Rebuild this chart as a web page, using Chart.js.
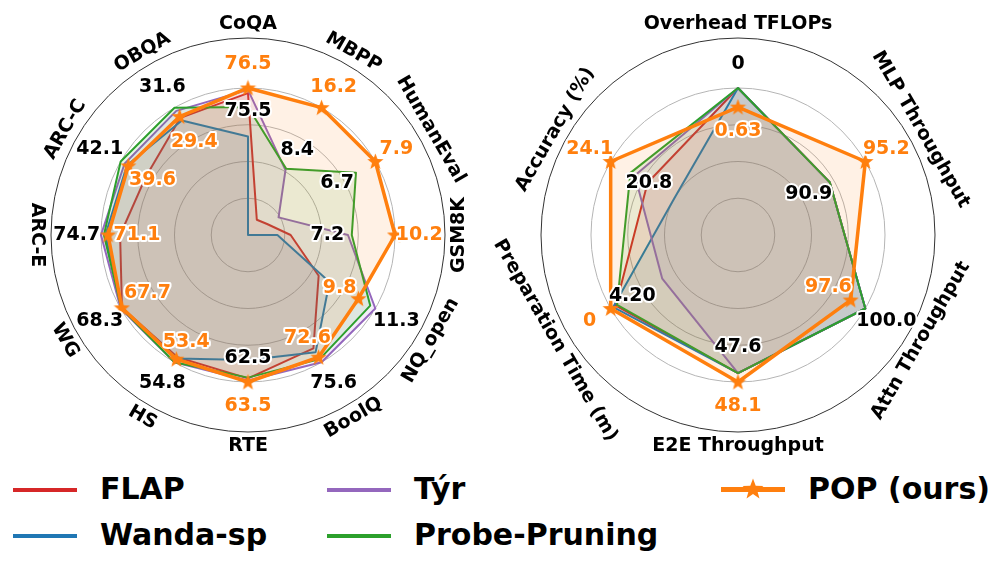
<!DOCTYPE html>
<html>
<head>
<meta charset="utf-8">
<script src="https://cdn.jsdelivr.net/npm/chart.js@4.4.0/dist/chart.umd.min.js"></script>
<style>
  body { margin:0; background:#fff; width:996px; height:561px; overflow:hidden; position:relative; font-family:"DejaVu Sans", sans-serif; }
  .box { position:absolute; top:0; width:496px; height:470px; }
  .legline { position:absolute; height:4px; }
  .legtext { position:absolute; font-weight:bold; font-size:30px; line-height:34px; color:#000; white-space:nowrap; }
</style>
</head>
<body>
<div class="box" style="left:0"><canvas id="left" width="496" height="470"></canvas></div>
<div class="box" style="left:490px"><canvas id="right" width="496" height="470"></canvas></div>
<div id="legend"></div>
<script>
// ---- data (each axis scaled by the best method on it) ----
const methods = ['FLAP', 'Wanda-sp', 'Týr', 'Probe-Pruning', 'POP (ours)'];
const colors  = ['#d62728', '#1f77b4', '#9467bd', '#2ca02c', '#ff7f0e'];

const taskLabels = ['CoQA', 'MBPP', 'HumanEval', 'GSM8K', 'NQ_open', 'BoolQ', 'RTE', 'HS', 'WG', 'ARC-E', 'ARC-C', 'OBQA'];
const flapTask  = [0.965, 0.12, 0.15, 0.29, 0.555, 0.89, 0.975, 0.96, 0.99, 0.87, 0.80, 0.92];
const wandaTask = [0.67, 0, 0, 0.20, 0.64, 0.92, 0.85, 0.97, 0.99, 0.97, 0.95, 0.90];
const tyrTask   = [0.987, 0.51, 0.24, 0.68, 1.0, 1.0, 0.99, 1.0, 1.0, 1.0, 0.97, 0.975];
const probeTask = [0.87, 0.52, 0.848, 0.706, 0.96, 0.975, 0.97, 1.0, 0.995, 0.98, 1.0, 1.0];
const popTask   = [1.0, 1.0, 1.0, 1.0, 0.867, 0.96, 1.0, 0.975, 0.991, 0.952, 0.94, 0.93];
const bestBaseTask = ['75.5', '8.4', '6.7', '7.2', '11.3', '75.6', '62.5', '54.8', '68.3', '74.7', '42.1', '31.6'];
const popValTask   = ['76.5', '16.2', '7.9', '10.2', '9.8', '72.6', '63.5', '53.4', '67.7', '71.1', '39.6', '29.4'];

const effLabels = ['Overhead TFLOPs', 'MLP Throughput', 'Attn Throughput', 'E2E Throughput', 'Preparation Time (m)', 'Accuracy (%)'];
const flapEff  = [1, 0.72, 1, 0.94, 0.96, 0.71];
const wandaEff = [1, 0.72, 1, 0.94, 0.98, 0.5];
const tyrEff   = [1, 0.72, 1, 0.94, 0.595, 0.81];
const probeEff = [1, 0.72, 1, 0.94, 0.95, 0.845];
const popEff   = [0.87, 1, 0.885, 1, 1, 1];
const bestBaseEff = ['0', '90.9', '100.0', '47.6', '4.20', '20.8'];
const popValEff   = ['0.63', '95.2', '97.6', '48.1', '0', '24.1'];

const gridSteps = [0, 0.25, 0.5, 0.75, 1.0, 1.34];

// where the inner value label sits on each axis (layout only)
const innerLeft  = [0.84, 0.67, 0.70, 0.54, 0.72, 0.81, 0.84, 0.84, 0.79, 0.755, 0.75, 0.73];
const innerRight = [0.71, 0.555, 0.71, 0.76, 0.83, 0.70];
const OUTER = 1.165;

function rgba(hex, a) {
    const n = parseInt(hex.slice(1), 16);
    return 'rgba(' + (n >> 16) + ',' + ((n >> 8) & 255) + ',' + (n & 255) + ',' + a + ')';
}

function starImage(size, color) {
    const c = document.createElement('canvas');
    c.width = c.height = size;
    const g = c.getContext('2d');
    const R = size / 2, r = R * 0.42;
    g.beginPath();
    for (let k = 0; k < 10; k++) {
        const rad = k % 2 ? r : R;
        const a = -Math.PI / 2 + k * Math.PI / 5;
        g.lineTo(R + rad * Math.cos(a), R + 0.5 + rad * Math.sin(a));
    }
    g.closePath();
    g.fillStyle = color;
    g.fill();
    return c;
}
const star = starImage(17, colors[4]);

const radarText = {
    id: 'radarText',
    afterDatasetsDraw(chart, args, opts) {
        const sc = chart.scales.r;
        const ctx = chart.ctx;
        const labels = chart.data.labels;
        const n = labels.length;
        const sets = chart.data.datasets.map(d => d.data);
        ctx.save();
        ctx.font = 'bold 19px "DejaVu Sans"';
        ctx.textAlign = 'center';
        ctx.textBaseline = 'middle';
        labels.forEach((lab, i) => {
            const p = sc.getPointPosition(i, sc.drawingArea + 14);
            const deg = i * 360 / n;
            const rot = deg < 90 ? deg : (deg <= 270 ? deg - 180 : deg - 360);
            ctx.save();
            ctx.translate(p.x, p.y);
            ctx.rotate(rot * Math.PI / 180);
            ctx.fillStyle = '#000';
            ctx.fillText(lab, 0, 0);
            ctx.restore();
        });
        ctx.font = 'bold 19px "DejaVu Sans"';
        ctx.lineWidth = 4;
        ctx.lineJoin = 'round';
        ctx.strokeStyle = '#fff';
        function put(txt, v, i, col) {
            const p = sc.getPointPosition(i, sc.getDistanceFromCenterForValue(v));
            ctx.strokeText(txt, p.x, p.y);
            ctx.fillStyle = col;
            ctx.fillText(txt, p.x, p.y);
        }
        labels.forEach((lab, i) => {
            const popV = sets[4][i];
            const baseV = Math.max(sets[0][i], sets[1][i], sets[2][i], sets[3][i]);
            const popOut = popV >= baseV;
            put(opts.best[i], popOut ? opts.inner[i] : OUTER, i, '#000');
            put(opts.pop[i], popOut ? OUTER : opts.inner[i], i, colors[4]);
        });
        ctx.restore();
    }
};

function radar(id, labels, series, best, pop, inner) {
    const datasets = series.map((s, k) => ({
        label: methods[k],
        data: s,
        borderColor: colors[k],
        backgroundColor: rgba(colors[k], 0.11),
        borderWidth: k === 4 ? 3.5 : 2,
        borderJoinStyle: 'round',
        fill: true,
        order: 5 - k,
        pointRadius: k === 4 ? 8 : 0,
        pointStyle: k === 4 ? star : 'circle',
        pointHoverRadius: 0
    }));
    new Chart(document.getElementById(id), {
        type: 'radar',
        data: { labels: labels, datasets: datasets },
        plugins: [radarText],
        options: {
            responsive: false,
            animation: false,
            layout: { padding: { left: 51, right: 51, top: 38, bottom: 38 } },
            plugins: {
                legend: { display: false },
                tooltip: { enabled: false },
                radarText: { best: best, pop: pop, inner: inner }
            },
            scales: {
                r: {
                    min: 0,
                    max: 1.34,
                    afterBuildTicks: s => { s.ticks = gridSteps.map(v => ({ value: v })); },
                    ticks: { display: false },
                    pointLabels: { display: false },
                    angleLines: { display: false },
                    grid: {
                        circular: true,
                        color: c => (c.tick && c.tick.value > 1.2) ? '#333' : '#b5b5b5',
                        lineWidth: 1
                    }
                }
            }
        }
    });
}

radar('left', taskLabels, [flapTask, wandaTask, tyrTask, probeTask, popTask], bestBaseTask, popValTask, innerLeft);
radar('right', effLabels, [flapEff, wandaEff, tyrEff, probeEff, popEff], bestBaseEff, popValEff, innerRight);

// legend, three columns filled top to bottom
const legX = [13, 327, 721];
const legY = [490, 536];
const leg = document.getElementById('legend');
methods.forEach((m, k) => {
    const x = legX[Math.floor(k / 2)], y = legY[k % 2];
    const line = document.createElement('div');
    line.className = 'legline';
    line.style.left = x + 'px';
    line.style.top = (y - (k === 4 ? 3 : 2)) + 'px';
    line.style.width = '64px';
    line.style.height = (k === 4 ? 5 : 4) + 'px';
    line.style.background = colors[k];
    leg.appendChild(line);
    if (k === 4) {
        const s = starImage(22, colors[4]);
        s.style.position = 'absolute';
        s.style.left = (x + 21) + 'px';
        s.style.top = (y - 12) + 'px';
        leg.appendChild(s);
    }
    const t = document.createElement('div');
    t.className = 'legtext';
    t.textContent = m;
    t.style.left = (x + 87) + 'px';
    t.style.top = (y - 18) + 'px';
    leg.appendChild(t);
});
</script>
</body>
</html>
